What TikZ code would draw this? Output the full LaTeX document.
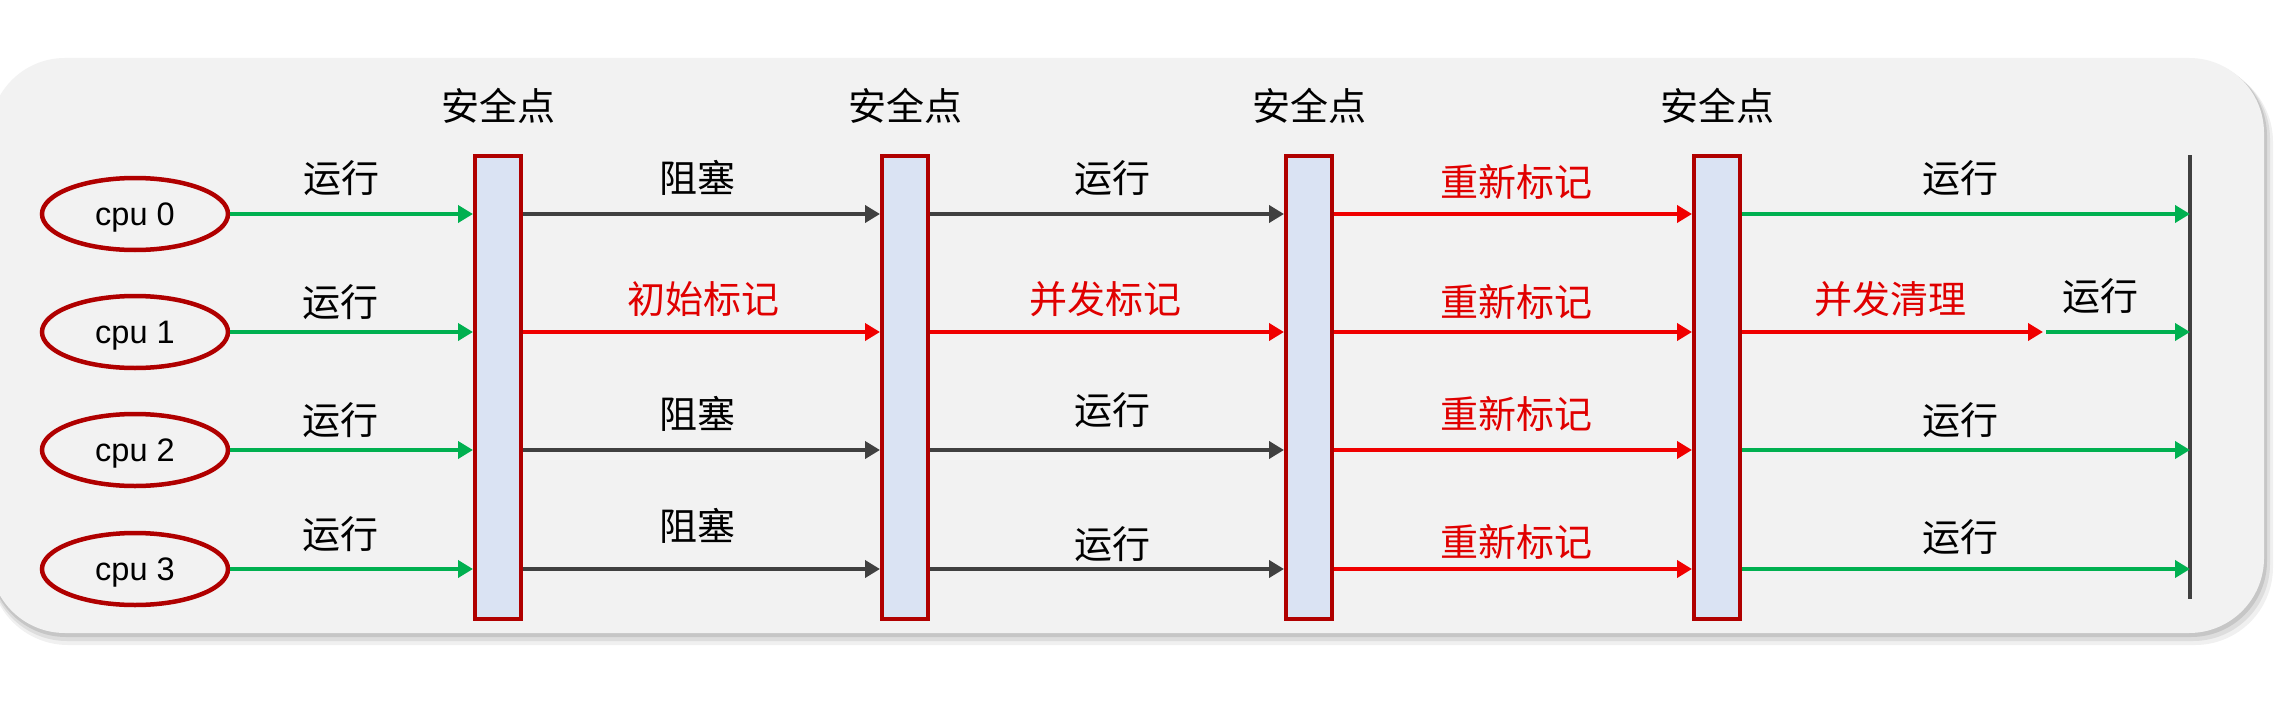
\documentclass[tikz,border=0pt]{standalone}
\usepackage{fontspec}
\setmainfont{Liberation Sans}
\newfontfamily\cjk{Noto Sans CJK SC}
\usetikzlibrary{arrows.meta,shapes.geometric}
\definecolor{bgc}{HTML}{F2F2F2}
\definecolor{garr}{HTML}{00B050}
\definecolor{rarr}{HTML}{F00000}
\definecolor{karr}{HTML}{404040}
\definecolor{dred}{HTML}{B00000}
\definecolor{barfill}{HTML}{DAE3F3}
\definecolor{rtext}{HTML}{E00000}
\tikzset{
  cpunode/.style={ellipse, draw=dred, line width=4.5pt, fill=bgc, minimum width=186pt, minimum height=72pt, inner sep=0, text depth=0pt, font=\fontsize{32.5}{36}\selectfont},
  barnode/.style={rectangle, draw=dred, line width=4pt, fill=barfill, minimum width=46pt, minimum height=463pt, inner sep=0},
  arr/.style={line width=4pt, -{Triangle[length=15pt,width=17pt]}},
  garrow/.style={arr, draw=garr},
  rarrow/.style={arr, draw=rarr},
  karrow/.style={arr, draw=karr},
  lbl/.style={font=\cjk\fontsize{38}{40}\selectfont, text=black, inner sep=0},
  rlbl/.style={lbl, text=rtext},
}
\begin{document}
\begin{tikzpicture}[x=1pt,y=-1pt]
\useasboundingbox (0,0) rectangle (2286,717);
\fill[white] (0,0) rectangle (2286,717);
% shadow
\fill[black, opacity=0.06, rounded corners=78pt] (-10,64) rectangle (2273,645);
\fill[black, opacity=0.08, rounded corners=77pt] (-10,62) rectangle (2270,641);
\fill[black, opacity=0.10, rounded corners=76pt] (-10,60) rectangle (2267,637);
% background
\fill[bgc, rounded corners=75pt] (-10,58) rectangle (2264,633);

% cpu nodes
\node[cpunode] (c0) at (135,214) {cpu 0};
\node[cpunode] (c1) at (135,332) {cpu 1};
\node[cpunode] (c2) at (135,450) {cpu 2};
\node[cpunode] (c3) at (135,569) {cpu 3};

% safepoint bars
\node[barnode] (b1) at (498,387) {};
\node[barnode] (b2) at (905,387) {};
\node[barnode] (b3) at (1309,387) {};
\node[barnode] (b4) at (1717,387) {};

\node[lbl] (s1) at (498,106) {安全点};
\node[lbl] (s2) at (905,106) {安全点};
\node[lbl] (s3) at (1309,106) {安全点};
\node[lbl] (s4) at (1717,106) {安全点};

% end line
\coordinate (et) at (2190,155);
\coordinate (eb) at (2190,599);
\draw[karr, line width=3.5pt] (et) -- (eb);
\coordinate (m1) at (2043,332);

% row 0
\draw[garrow] (c0.east) -- (c0 -| b1.west);
\draw[karrow] (b1.east |- c0) -- (b2.west |- c0);
\draw[karrow] (b2.east |- c0) -- (b3.west |- c0);
\draw[rarrow] (b3.east |- c0) -- (b4.west |- c0);
\draw[garrow] (b4.east |- c0) -- (et |- c0);
% row 1
\draw[garrow] (c1.east) -- (c1 -| b1.west);
\draw[rarrow] (b1.east |- c1) -- (b2.west |- c1);
\draw[rarrow] (b2.east |- c1) -- (b3.west |- c1);
\draw[rarrow] (b3.east |- c1) -- (b4.west |- c1);
\draw[rarrow] (b4.east |- c1) -- (m1);
\draw[garrow] ([xshift=3pt]m1) -- (et |- c1);
% row 2
\draw[garrow] (c2.east) -- (c2 -| b1.west);
\draw[karrow] (b1.east |- c2) -- (b2.west |- c2);
\draw[karrow] (b2.east |- c2) -- (b3.west |- c2);
\draw[rarrow] (b3.east |- c2) -- (b4.west |- c2);
\draw[garrow] (b4.east |- c2) -- (et |- c2);
% row 3
\draw[garrow] (c3.east) -- (c3 -| b1.west);
\draw[karrow] (b1.east |- c3) -- (b2.west |- c3);
\draw[karrow] (b2.east |- c3) -- (b3.west |- c3);
\draw[rarrow] (b3.east |- c3) -- (b4.west |- c3);
\draw[garrow] (b4.east |- c3) -- (et |- c3);

% labels row 0
\node[lbl] (l00) at (341,178) {运行};
\node[lbl] (l01) at (697,178) {阻塞};
\node[lbl] (l02) at (1112,178) {运行};
\node[rlbl] (l03) at (1516,182) {重新标记};
\node[lbl] (l04) at (1960,178) {运行};
% labels row 1
\node[lbl] (l10) at (340,302) {运行};
\node[rlbl] (l11) at (703,299) {初始标记};
\node[rlbl] (l12) at (1105,299) {并发标记};
\node[rlbl] (l13) at (1516,302) {重新标记};
\node[rlbl] (l14) at (1890,299) {并发清理};
\node[lbl] (l15) at (2100,296) {运行};
% labels row 2
\node[lbl] (l20) at (340,420) {运行};
\node[lbl] (l21) at (697,414) {阻塞};
\node[lbl] (l22) at (1112,410) {运行};
\node[rlbl] (l23) at (1516,414) {重新标记};
\node[lbl] (l24) at (1960,420) {运行};
% labels row 3
\node[lbl] (l30) at (340,534) {运行};
\node[lbl] (l31) at (697,526) {阻塞};
\node[lbl] (l32) at (1112,544) {运行};
\node[rlbl] (l33) at (1516,542) {重新标记};
\node[lbl] (l34) at (1960,537) {运行};
\end{tikzpicture}
\end{document}
